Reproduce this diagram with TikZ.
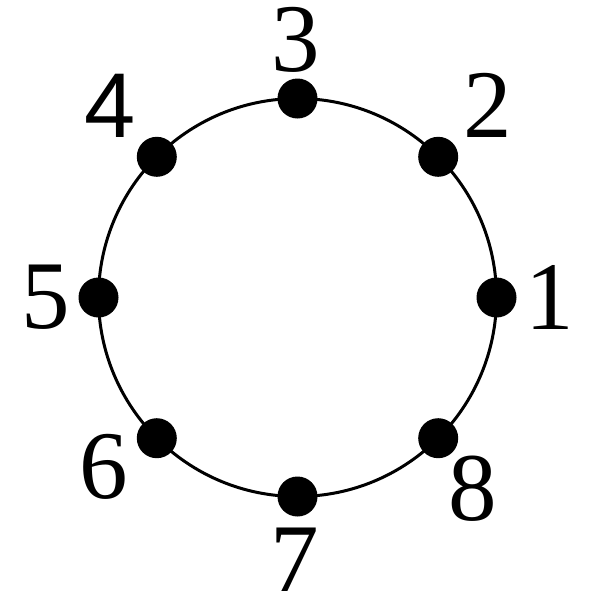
\documentclass[tikz,border=0pt]{standalone}
\usepackage{fontspec}
\setmainfont{Liberation Serif}
\newfontfamily\labsans{Liberation Sans}
\usepackage{tikz}
\usetikzlibrary{positioning}
\tikzset{
  vert/.style={circle, fill=black, inner sep=0pt, minimum size=40pt},
  lab/.style={inner sep=0pt, font=\fontsize{97}{97}\selectfont},
}
\begin{document}
\begin{tikzpicture}[x=1pt, y=-1pt]
    \useasboundingbox (0,0) rectangle (598,598);
    \draw[line width=3pt] (297.5,297.5) circle[radius=199pt];
    \node[vert] (V1) at (496.5,297.5) {};
    \node[vert] (V2) at (438.2,156.8) {};
    \node[vert] (V3) at (297.5,98.5) {};
    \node[vert] (V4) at (156.8,156.8) {};
    \node[vert] (V5) at (98.5,297.5) {};
    \node[vert] (V6) at (156.8,438.2) {};
    \node[vert] (V7) at (297.5,496.5) {};
    \node[vert] (V8) at (438.2,438.2) {};
    \node[lab] (L1) at (550,297) {1};
    \node[lab] (L2) at (488,105) {2};
    \node[lab] (L3) at (296,40) {3};
    \node[lab, font=\fontsize{92}{92}\labsans] (L4) at (110,106) {4};
    \node[lab] (L5) at (46,297) {5};
    \node[lab] (L6) at (104,467) {6};
    \node[lab] (L7) at (295,560) {7};
    \node[lab] (L8) at (473,489) {8};
  \end{tikzpicture}
\end{document}
